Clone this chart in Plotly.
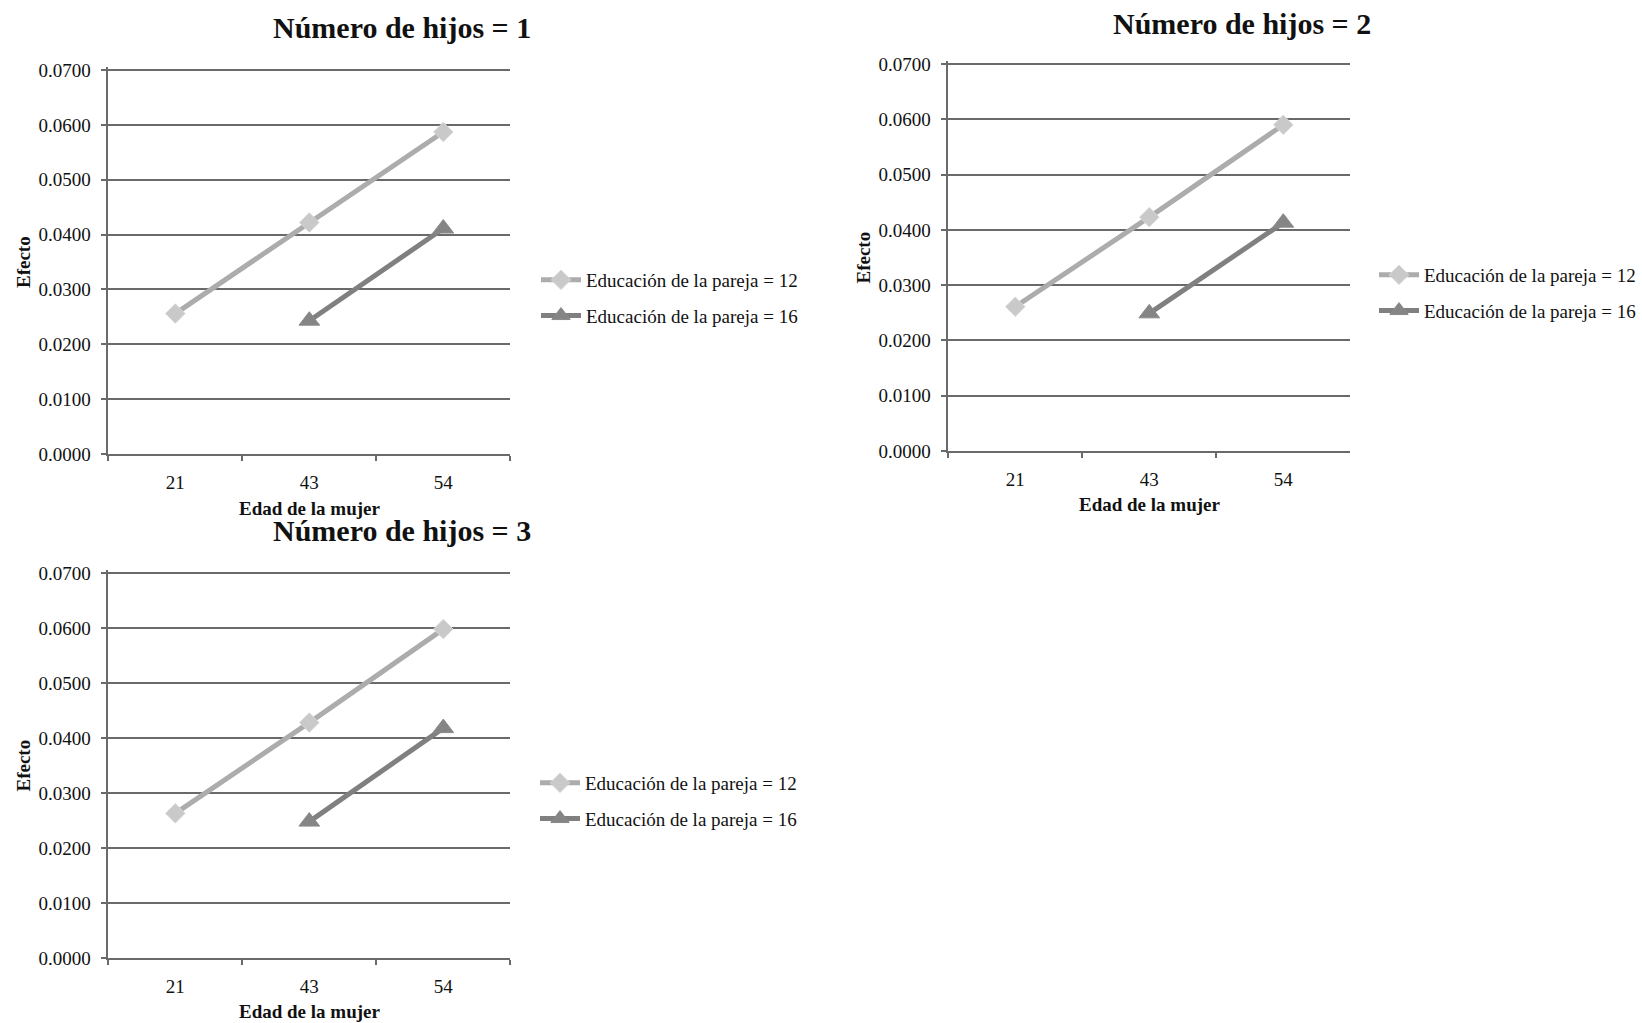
import plotly.graph_objects as go

# ---- data ----
ages = ["21", "43", "54"]
panel_titles = ["Número de hijos = 1", "Número de hijos = 2", "Número de hijos = 3"]
series_names = ["Educación de la pareja = 12", "Educación de la pareja = 16"]

edu12_h1 = [0.0256, 0.0422, 0.0587]
edu16_h1 = [None, 0.0243, 0.0411]
edu12_h2 = [0.0261, 0.0423, 0.0590]
edu16_h2 = [None, 0.0249, 0.0413]
edu12_h3 = [0.0263, 0.0428, 0.0598]
edu16_h3 = [None, 0.0248, 0.0418]

y_ticks = [0.0, 0.01, 0.02, 0.03, 0.04, 0.05, 0.06, 0.07]
y_tick_labels = ["0.0000", "0.0100", "0.0200", "0.0300", "0.0400", "0.0500", "0.0600", "0.0700"]
y_max = 0.07

x_title = "Edad de la mujer"
y_title = "Efecto"

# ---- layout geometry (pixels) ----
W, H = 1642, 1023
FONT = "Liberation Serif, Times New Roman, serif"
panels = [
    dict(l=108.3, r=510.3, t=70, b=454, title_x=402, title_y=28, leg_x=586, leg_y=275,
         ytitle_x=23, xtitle_y=508),
    dict(l=948.3, r=1350.3, t=64, b=451, title_x=1242, title_y=24, leg_x=1424, leg_y=270,
         ytitle_x=863, xtitle_y=504),
    dict(l=108.3, r=510.3, t=573, b=958, title_x=402, title_y=530, leg_x=585, leg_y=778,
         ytitle_x=23, xtitle_y=1011),
]
data = [(edu12_h1, edu16_h1), (edu12_h2, edu16_h2), (edu12_h3, edu16_h3)]

LIGHT_LINE = "#acacac"
LIGHT_MARK = "#c9c9c9"
DARK_LINE = "#808080"
DARK_MARK = "#858585"
GRID = "#6a6a6a"
EXTRA = 3  # px of headroom so the top gridline is drawn

fig = go.Figure()
annotations = []
layout = {}
for i, (p, (s12, s16)) in enumerate(zip(panels, data)):
    suffix = "" if i == 0 else str(i + 1)
    xa, ya = "x" + suffix, "y" + suffix
    leg = "legend" + suffix
    fig.add_trace(go.Scatter(
        x=ages, y=s12, xaxis=xa, yaxis=ya, mode="lines+markers", name=series_names[0],
        line=dict(color=LIGHT_LINE, width=5),
        marker=dict(symbol="diamond", size=15, color=LIGHT_MARK, line=dict(color="#d8d8d8", width=1)),
        legend=leg, legendgroup=f"a{i}", showlegend=True))
    fig.add_trace(go.Scatter(
        x=ages, y=s16, xaxis=xa, yaxis=ya, mode="lines+markers", name=series_names[1],
        line=dict(color=DARK_LINE, width=5),
        marker=dict(symbol="triangle-up", size=18, color=DARK_MARK, line=dict(color="#8a8a8a", width=1)),
        legend=leg, legendgroup=f"b{i}", showlegend=True))

    span = p["b"] - p["t"]
    top = p["t"] - EXTRA
    layout["xaxis" + suffix] = dict(
        domain=[p["l"] / W, p["r"] / W], anchor=ya, type="category",
        range=[-0.5, 2.5], showgrid=False, showline=True, linecolor=GRID, linewidth=1.5,
        ticks="outside", tickson="boundaries", ticklen=5, tickcolor=GRID, tickwidth=1.5,
        tickfont=dict(family=FONT, size=19, color="#111111"), ticklabelstandoff=10,
        zeroline=False, fixedrange=True, automargin=False)
    layout["yaxis" + suffix] = dict(
        domain=[1 - p["b"] / H, 1 - top / H], anchor=xa,
        range=[0, y_max * (span + EXTRA) / span],
        tickvals=y_ticks, ticktext=y_tick_labels, showgrid=True, gridcolor=GRID, gridwidth=1.5,
        showline=True, linecolor=GRID, linewidth=1.5, ticks="outside", ticklen=6,
        tickcolor=GRID, tickwidth=1.5, tickfont=dict(family=FONT, size=19, color="#111111"),
        ticklabelstandoff=6, zeroline=False, fixedrange=True, automargin=False)
    layout[leg] = dict(
        x=(p["leg_x"] - 50) / W, y=1 - (p["leg_y"] - 14) / H, xanchor="left", yanchor="top",
        font=dict(family=FONT, size=19, color="#111111"), bgcolor="rgba(0,0,0,0)",
        traceorder="grouped", tracegroupgap=8, itemwidth=40)

    annotations.append(dict(
        text=f"<b>{panel_titles[i]}</b>", x=p["title_x"] / W, y=1 - p["title_y"] / H,
        xref="paper", yref="paper", xanchor="center", yanchor="middle", showarrow=False,
        font=dict(family=FONT, size=30, color="#111111")))
    annotations.append(dict(
        text=f"<b>{x_title}</b>", x=(p["l"] + p["r"]) / 2 / W, y=1 - p["xtitle_y"] / H,
        xref="paper", yref="paper", xanchor="center", yanchor="middle", showarrow=False,
        font=dict(family=FONT, size=19, color="#111111")))
    annotations.append(dict(
        text=f"<b>{y_title}</b>", x=p["ytitle_x"] / W, y=1 - (p["t"] + p["b"]) / 2 / H,
        xref="paper", yref="paper", xanchor="center", yanchor="middle", showarrow=False,
        textangle=-90, font=dict(family=FONT, size=19, color="#111111")))

fig.update_layout(
    width=W, height=H, margin=dict(l=0, r=0, t=0, b=0, pad=0, autoexpand=False),
    paper_bgcolor="white", plot_bgcolor="white",
    annotations=annotations, **layout)

fig.write_html(
    "out.html",
    config={"displayModeBar": False},
    post_script="document.body.style.margin='0';document.body.style.overflow='hidden';")
